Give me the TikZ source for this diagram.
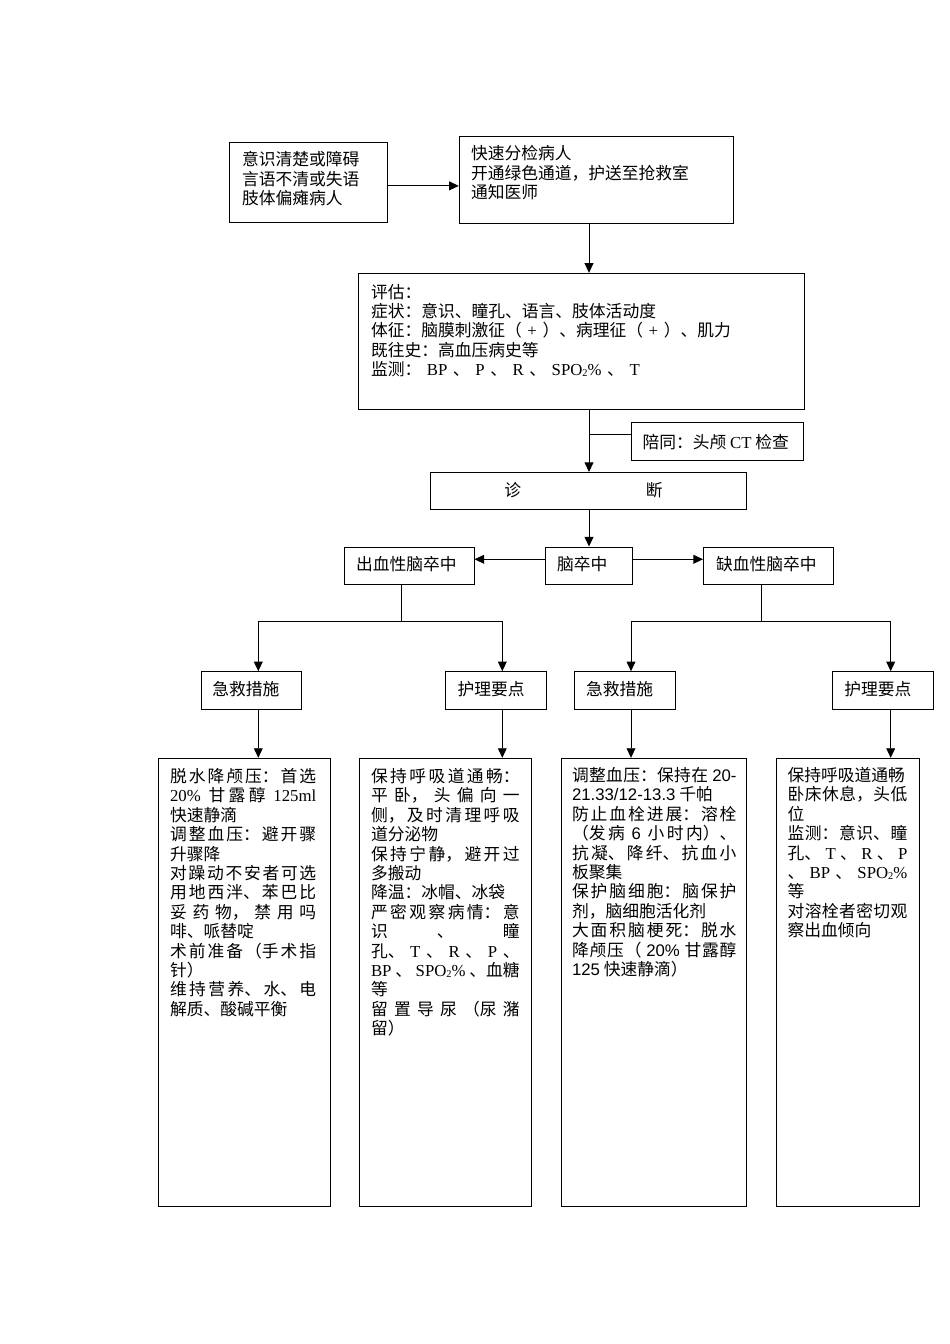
\documentclass[tikz,border=0pt]{standalone}
\usepackage{fontspec}
\setmainfont{Noto Sans CJK SC}
\newfontfamily\lat{Liberation Serif}
\newfontfamily\las{Liberation Sans}
\usetikzlibrary{arrows.meta,fit}
\XeTeXlinebreaklocale "zh"
\XeTeXlinebreakskip=0pt plus 1pt
\tolerance=10000
\hbadness=10000
\newcommand\spo{{\lat SPO\raisebox{-0.15ex}{\fontsize{6.5pt}{6.5pt}\selectfont 2}\%}}
\newcommand\hf{\hfill{}}
\begin{document}
\begin{tikzpicture}[x=0.6263pt,y=-0.6263pt,
  box/.style={draw,line width=0.6pt,inner sep=0pt},
  arr/.style={line width=0.6pt,-{Triangle[length=6pt,width=5.5pt]}},
  ln/.style={line width=0.6pt},
  txt/.style={inner sep=0pt,anchor=base west,font=\fontsize{10.5pt}{12.15pt}\selectfont},
  jbox/.style={txt,align=justify,text width=#1},
  lbox/.style={txt,align=left,text width=#1}]
\useasboundingbox (0,0) rectangle (950,1344);
% boxes
\node[box, fit={(229.3,142.7) (387.7,222.7)}] (A) {};
\node[box, fit={(459.3,136.5) (733.3,223.5)}] (B) {};
\node[box, fit={(358.5,273.3) (804.5,409.3)}] (E) {};
\node[box, fit={(631.7,422.7) (803.3,460)}] (CT) {};
\node[box, fit={(430.5,472.5) (746.5,509.5)}] (D) {};
\node[box, fit={(545,547) (632,584)}] (S) {};
\node[box, fit={(344,547) (474,584)}] (H) {};
\node[box, fit={(703.5,547) (833.5,584)}] (I) {};
\node[box, fit={(201,671.7) (301.7,709)}] (HA) {};
\node[box, fit={(445,671.7) (546,709)}] (HN) {};
\node[box, fit={(574,671.7) (675.7,709)}] (IA) {};
\node[box, fit={(832.7,671.7) (933.3,709)}] (IN) {};
\node[box, fit={(158.3,758.3) (330.5,1206.7)}] (B1) {};
\node[box, fit={(359.3,758.3) (531,1206.7)}] (B2) {};
\node[box, fit={(561.7,758.3) (746.7,1206.7)}] (B3) {};
\node[box, fit={(776,758.3) (919,1206.7)}] (B4) {};
% texts
\node[lbox=100pt] (tA) at (241.7,165.7) {意识清楚或障碍\\言语不清或失语\\肢体偏瘫病人};
\node[lbox=165pt] (tB) at (470.7,159.7) {快速分检病人\\开通绿色通道，护送至抢救室\\通知医师};
\node[lbox=270pt] (tE) at (370.7,298.1) {评估：\\症状：意识、瞳孔、语言、肢体活动度\\体征：脑膜刺激征（ {\lat +} ）、病理征（ {\lat +} ）、肌力\\既往史：高血压病史等\\监测： {\lat BP} 、 {\lat P} 、 {\lat R} 、 \spo{} 、 {\lat T}};
\node[txt] (tCT) at (642.3,448.1) {陪同：头颅 {\lat CT} 检查};
\node[txt] (tD) at (504,496.4) {诊\hspace{78.2pt}断};
\node[txt] (tH) at (355.7,570.4) {出血性脑卒中};
\node[txt] (tS) at (556.7,570.4) {脑卒中};
\node[txt] (tI) at (715.7,570.4) {缺血性脑卒中};
\node[txt] (tHA) at (212,695.7) {急救措施};
\node[txt] (tHN) at (457.3,695.7) {护理要点};
\node[txt] (tIA) at (585.7,695.7) {急救措施};
\node[txt] (tIN) at (844,695.7) {护理要点};
\node[jbox=91.6pt] (t1) at (169.7,782.4) {脱水降颅压：首选\linebreak
{\lat 20\%} 甘露醇 {\lat 125ml}\linebreak
快速静滴\\
调整血压：避开骤\linebreak
升骤降\\
对躁动不安者可选\linebreak
用地西泮、苯巴比\linebreak
妥药物，禁用吗\linebreak
啡、哌替啶\\
术前准备（手术指\linebreak
针）\\
维持营养、水、电\linebreak
解质、酸碱平衡};
\node[jbox=93.1pt] (t2) at (370.7,782.4) {保持呼吸道通畅：\linebreak
平卧，头偏向一\linebreak
侧，及时清理呼吸\linebreak
道分泌物\\
保持宁静，避开过\linebreak
多搬动\\
降温：冰帽、冰袋\\
严密观察病情：意\linebreak
识\hf 、\hf 瞳\linebreak
孔、\hf {\lat T}\hf 、\hf {\lat R}\hf 、\hf {\lat P}\hf 、\linebreak
{\lat BP}\hf 、\hf \spo\hf 、血糖\linebreak
等\\
留置导尿（尿潴\linebreak
留）};
\node[jbox=103pt] (t3) at (571.7,781.4) {调整血压：保持在 {\las 20-}\linebreak
{\las 21.33/12-13.3} 千帕\\
防止血栓进展：溶栓\linebreak
（发病 {\las 6} 小时内）、\linebreak
抗凝、降纤、抗血小\linebreak
板聚集\\
保护脑细胞：脑保护\linebreak
剂，脑细胞活化剂\\
大面积脑梗死：脱水\linebreak
降颅压（ {\las 20\%} 甘露醇\linebreak
{\las 125} 快速静滴）};
\node[jbox=75pt] (t4) at (787.3,781.4) {保持呼吸道通畅\\
卧床休息，头低\linebreak
位\\
监测：意识、瞳\linebreak
孔、\hf {\lat T}\hf 、\hf {\lat R}\hf 、\hf {\lat P}\linebreak
、\hf {\lat BP}\hf 、\hf \spo\linebreak
等\\
对溶栓者密切观\linebreak
察出血倾向};
% connectors
\coordinate (sp) at (589,0);
\coordinate (hj) at (401.7,621.7);
\coordinate (ij) at (761.5,621.7);
\coordinate (c1) at (258.3,0);
\coordinate (c2) at (502.3,0);
\coordinate (c3) at (631,0);
\coordinate (c4) at (890.7,0);
\draw[arr] ([yshift=-2pt]A.east) -- ([yshift=-2pt]A.east -| B.west);
\draw[arr] (B.south -| sp) -- (E.north -| sp);
\draw[arr] (E.south -| sp) -- (D.north -| sp);
\draw[ln] ([yshift=4.4pt]CT.west) -- ([yshift=4.4pt]CT.west -| sp);
\draw[arr] (D.south -| sp) -- (S.north -| sp);
\draw[arr] ([yshift=3.9pt]S.west) -- ([yshift=3.9pt]S.west -| H.east);
\draw[arr] ([yshift=3.9pt]S.east) -- ([yshift=3.9pt]S.east -| I.west);
\draw[ln] (H.south -| hj) -- (hj);
\draw[arr] (hj) -| (c1 |- HA.north);
\draw[arr] (hj) -| (c2 |- HN.north);
\draw[ln] (I.south -| ij) -- (ij);
\draw[arr] (ij) -| (c3 |- IA.north);
\draw[arr] (ij) -| (c4 |- IN.north);
\draw[arr] (c1 |- HA.south) -- (c1 |- B1.north);
\draw[arr] (c2 |- HN.south) -- (c2 |- B2.north);
\draw[arr] (c3 |- IA.south) -- (c3 |- B3.north);
\draw[arr] (c4 |- IN.south) -- (c4 |- B4.north);
\end{tikzpicture}
\end{document}
